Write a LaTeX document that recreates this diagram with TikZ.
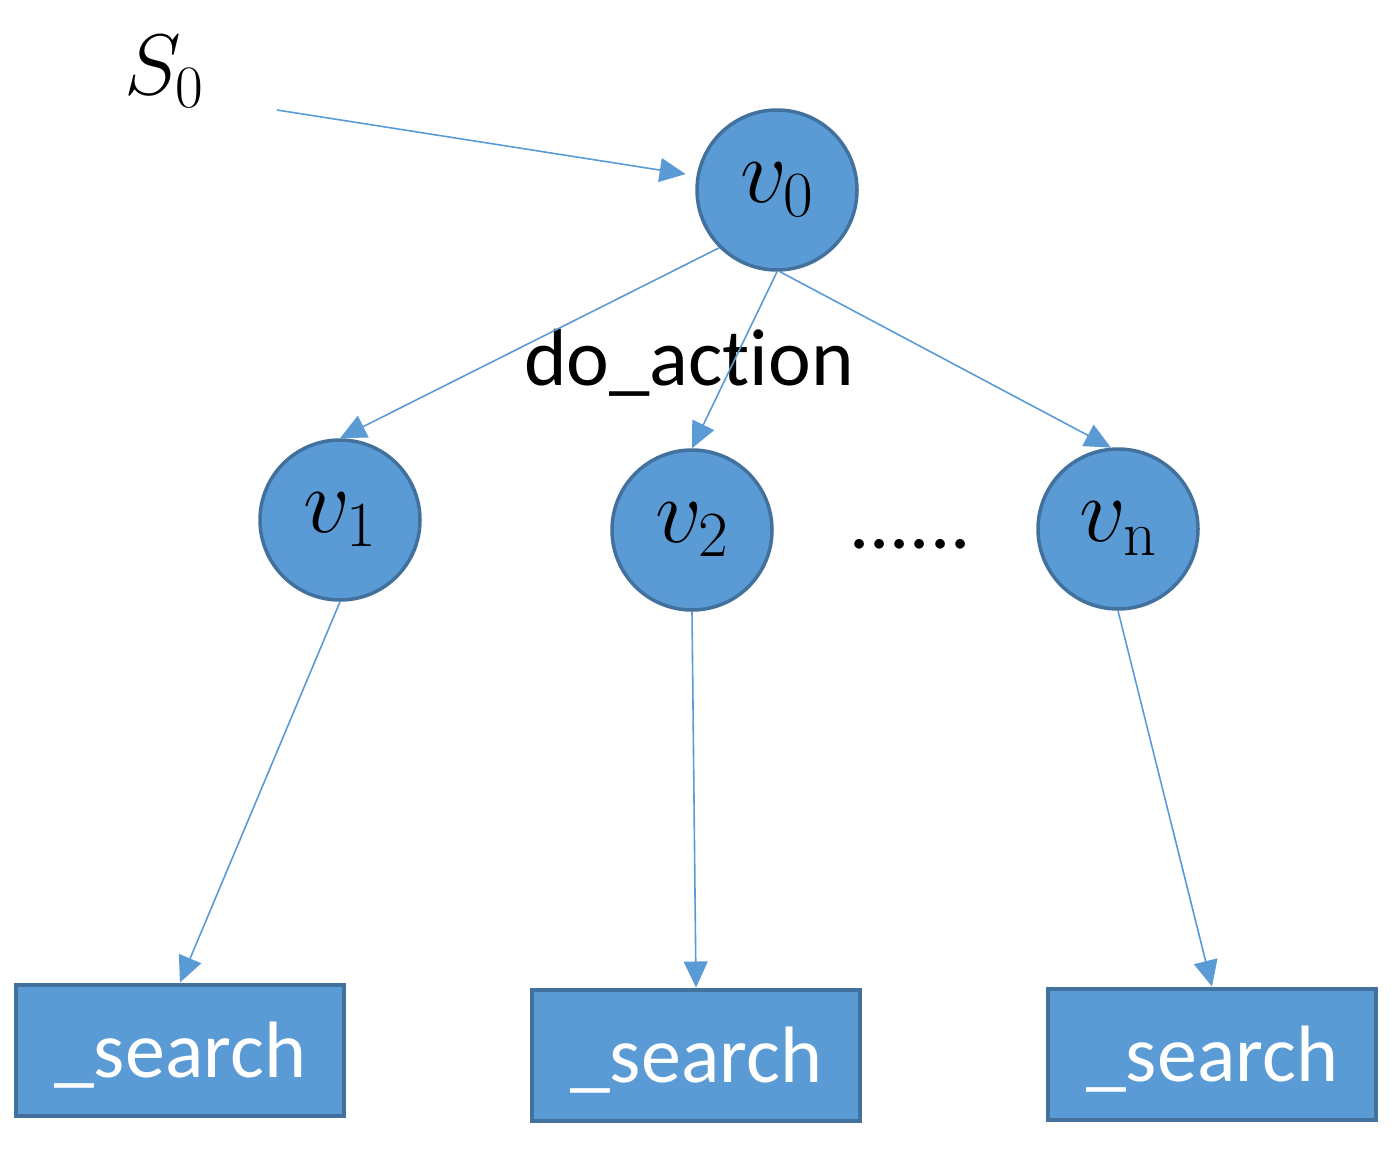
\RequirePackage{fix-cm}
\documentclass[tikz,border=0pt]{standalone}
\usepackage{fontspec}
\newfontfamily\calibri[Ligatures=NoCommon]{Carlito}
\usetikzlibrary{arrows.meta}
\definecolor{nodeblue}{HTML}{5B9BD5}
\definecolor{rimblue}{HTML}{41719C}

\begin{document}
\begin{tikzpicture}[x=1pt,y=-1pt,
  state/.style={circle,draw=rimblue,fill=nodeblue,line width=3.5pt,minimum size=160pt,inner sep=0pt,font=\fontsize{92}{100}\selectfont},
  searchbox/.style={rectangle,draw=rimblue,fill=nodeblue,line width=4pt,minimum width=328pt,minimum height=131pt,inner sep=0pt,text height=60pt,text depth=6pt,text=white,font=\calibri\fontsize{80}{96}\selectfont},
  link/.style={draw=nodeblue,line width=1.6pt,-{Triangle[length=26pt,width=24pt]}}]
  \useasboundingbox (0,0) rectangle (1391,1154);

  % Draw the start state
  \node[font=\fontsize{86}{96}\selectfont] (s0) at (164,72) {$S_0$};
  \coordinate (s0tail) at (277,110);

  % Draw the tree nodes
  \node[state] (v0) at (777,190) {$v_0$};
  \node[state] (v1) at (340,520) {$v_1$};
  \node[state] (v2) at (692,530) {$v_2$};
  \node[state] (vn) at (1118,529) {$v_{\mathrm{n}}$};

  \node[searchbox] (b1) at (180,1050) {\_search};
  \node[searchbox] (b2) at (696,1055) {\_search};
  \node[searchbox] (b3) at (1212,1054) {\_search};

  \node[font=\calibri\fontsize{81}{96}\selectfont, anchor=base] (act) at (689,385) {do\_action};
  \node[font=\calibri\fontsize{80}{96}\selectfont, anchor=base] (dots) at (910,548) {......};

  % Draw the arrows
  \draw[link, shorten >=11pt] (s0tail) -- (v0.170);
  \draw[link] (v0.225) -- (v1.north);
  \draw[link] (v0.south) -- (v2.north);
  \draw[link] (v0.-88) -- (vn.95);

  \draw[link] (v1.south) -- (b1.north);
  \draw[link] (v2.south) -- (b2.north);
  \draw[link] (vn.south) -- (b3.north);
\end{tikzpicture}
\end{document}
